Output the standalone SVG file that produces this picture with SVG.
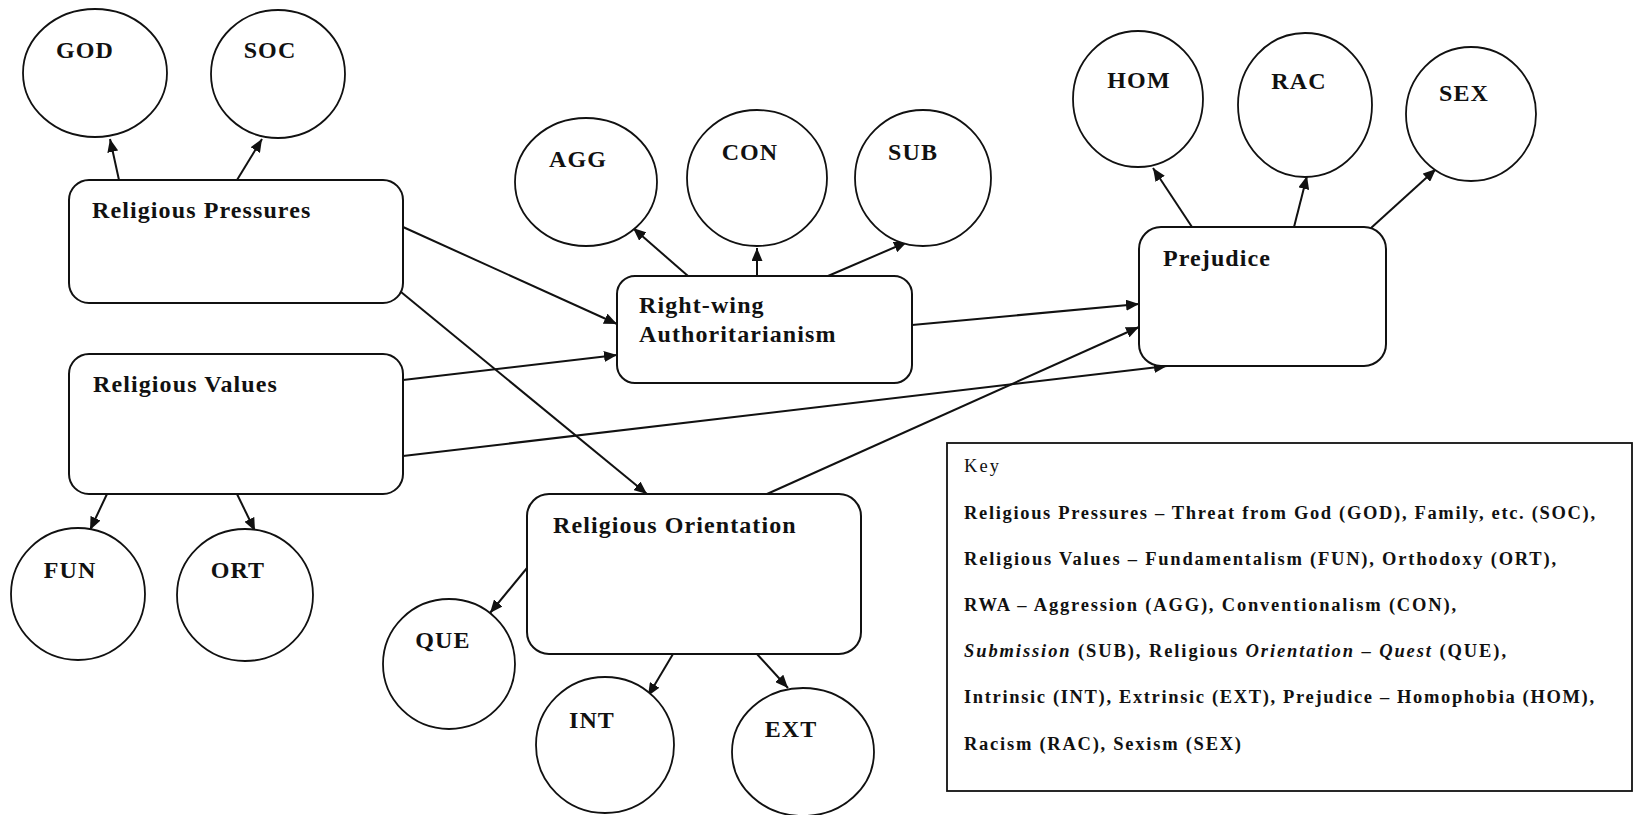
<svg xmlns="http://www.w3.org/2000/svg" width="1634" height="815" viewBox="0 0 1634 815">
  <style>
    .bg { fill: #ffffff; }
    .box { fill: #ffffff; stroke: #111111; stroke-width: 2; }
    .circ { fill: #ffffff; stroke: #111111; stroke-width: 1.8; }
    .lbl { font-family: "Liberation Serif", "Times New Roman", serif; font-weight: bold; font-size: 24px; letter-spacing: 1.1px; fill: #111111; }
    .mid { text-anchor: middle; }
    .edge { stroke: #111111; stroke-width: 2; fill: none; marker-end: url(#arrow); }
    .key { fill: #ffffff; stroke: #111111; stroke-width: 1.8; }
    .keytxt { font-family: "Liberation Serif", "Times New Roman", serif; font-weight: bold; font-size: 18.5px; fill: #111111; }
    .it { font-style: italic; }
  </style>
  <defs>
    <marker id="arrow" markerUnits="userSpaceOnUse" markerWidth="14" markerHeight="11" refX="13" refY="5.5" orient="auto">
      <path d="M0,0 L13,5.5 L0,11 z" fill="#111111"/>
    </marker>
  </defs>

  <rect class="bg" x="0" y="0" width="1634" height="815"/>

  <!-- connectors -->
  <g id="connectors">
    <line class="edge" x1="119" y1="180" x2="110" y2="139"/>
    <line class="edge" x1="237" y1="180" x2="262" y2="139"/>
    <line class="edge" x1="107" y1="494" x2="90" y2="530"/>
    <line class="edge" x1="237" y1="494" x2="255" y2="531"/>
    <line class="edge" x1="403" y1="227" x2="617" y2="324"/>
    <line class="edge" x1="403" y1="380" x2="617" y2="355"/>
    <line class="edge" x1="401" y1="292" x2="647" y2="494"/>
    <line class="edge" x1="688" y1="276" x2="633" y2="228"/>
    <line class="edge" x1="757" y1="276" x2="757" y2="248"/>
    <line class="edge" x1="828" y1="276" x2="907" y2="242"/>
    <line class="edge" x1="912" y1="325" x2="1139" y2="304"/>
    <line class="edge" x1="403" y1="456" x2="1167" y2="366"/>
    <line class="edge" x1="767" y1="494" x2="1139" y2="327"/>
    <line class="edge" x1="527" y1="568" x2="490" y2="613"/>
    <line class="edge" x1="673" y1="654" x2="648" y2="696"/>
    <line class="edge" x1="757" y1="654" x2="788" y2="688"/>
    <line class="edge" x1="1192" y1="227" x2="1153" y2="168"/>
    <line class="edge" x1="1294" y1="227" x2="1307" y2="176"/>
    <line class="edge" x1="1371" y1="228" x2="1436" y2="169"/>
  </g>

  <!-- latent constructs -->
  <g id="religious-pressures">
    <rect class="box" x="69" y="180" width="334" height="123" rx="20" ry="20"/>
    <text class="lbl" x="92" y="218">Religious Pressures</text>
  </g>
  <g id="religious-values">
    <rect class="box" x="69" y="354" width="334" height="140" rx="20" ry="20"/>
    <text class="lbl" x="93" y="392">Religious Values</text>
  </g>
  <g id="rwa">
    <rect class="box" x="617" y="276" width="295" height="107" rx="18" ry="18"/>
    <text class="lbl" x="639" y="313">Right-wing</text>
    <text class="lbl" x="639" y="342">Authoritarianism</text>
  </g>
  <g id="religious-orientation">
    <rect class="box" x="527" y="494" width="334" height="160" rx="22" ry="22"/>
    <text class="lbl" x="553" y="533">Religious Orientation</text>
  </g>
  <g id="prejudice">
    <rect class="box" x="1139" y="227" width="247" height="139" rx="22" ry="22"/>
    <text class="lbl" x="1163" y="266">Prejudice</text>
  </g>

  <!-- indicators -->
  <g id="god">
    <ellipse class="circ" cx="95" cy="73" rx="72" ry="64"/>
    <text class="lbl mid" x="85" y="58">GOD</text>
  </g>
  <g id="soc">
    <ellipse class="circ" cx="278" cy="74" rx="67" ry="64"/>
    <text class="lbl mid" x="270" y="58">SOC</text>
  </g>
  <g id="agg">
    <ellipse class="circ" cx="586" cy="182" rx="71" ry="64"/>
    <text class="lbl mid" x="578" y="167">AGG</text>
  </g>
  <g id="con">
    <ellipse class="circ" cx="757" cy="178" rx="70" ry="68"/>
    <text class="lbl mid" x="750" y="160">CON</text>
  </g>
  <g id="sub">
    <ellipse class="circ" cx="923" cy="178" rx="68" ry="68"/>
    <text class="lbl mid" x="913" y="160">SUB</text>
  </g>
  <g id="hom">
    <ellipse class="circ" cx="1138" cy="99" rx="65" ry="68"/>
    <text class="lbl mid" x="1139" y="88">HOM</text>
  </g>
  <g id="rac">
    <ellipse class="circ" cx="1305" cy="105" rx="67" ry="72"/>
    <text class="lbl mid" x="1299" y="89">RAC</text>
  </g>
  <g id="sex">
    <ellipse class="circ" cx="1471" cy="114" rx="65" ry="67"/>
    <text class="lbl mid" x="1464" y="101">SEX</text>
  </g>
  <g id="fun">
    <ellipse class="circ" cx="78" cy="594" rx="67" ry="66"/>
    <text class="lbl mid" x="70" y="578">FUN</text>
  </g>
  <g id="ort">
    <ellipse class="circ" cx="245" cy="595" rx="68" ry="66"/>
    <text class="lbl mid" x="238" y="578">ORT</text>
  </g>
  <g id="que">
    <ellipse class="circ" cx="449" cy="664" rx="66" ry="65"/>
    <text class="lbl mid" x="443" y="648">QUE</text>
  </g>
  <g id="int">
    <ellipse class="circ" cx="605" cy="745" rx="69" ry="68"/>
    <text class="lbl mid" x="592" y="728">INT</text>
  </g>
  <g id="ext">
    <ellipse class="circ" cx="803" cy="752" rx="71" ry="64"/>
    <text class="lbl mid" x="791" y="737">EXT</text>
  </g>

  <!-- legend -->
  <g id="key">
    <rect class="key" x="947" y="443" width="685" height="348"/>
    <text class="keytxt" x="964" y="472" style="font-weight:normal" textLength="35" lengthAdjust="spacing">Key</text>
    <text class="keytxt" x="964" y="519" textLength="631" lengthAdjust="spacing">Religious Pressures – Threat from God (GOD), Family, etc. (SOC),</text>
    <text class="keytxt" x="964" y="565" textLength="592" lengthAdjust="spacing">Religious Values – Fundamentalism (FUN), Orthodoxy (ORT),</text>
    <text class="keytxt" x="964" y="611" textLength="492" lengthAdjust="spacing">RWA – Aggression (AGG), Conventionalism (CON),</text>
    <text class="keytxt" x="964" y="657" textLength="542" lengthAdjust="spacing"><tspan class="it">Submission</tspan> (SUB), Religious <tspan class="it">Orientation</tspan> – <tspan class="it">Quest</tspan> (QUE),</text>
    <text class="keytxt" x="964" y="703" textLength="630" lengthAdjust="spacing">Intrinsic (INT), Extrinsic (EXT), Prejudice – Homophobia (HOM),</text>
    <text class="keytxt" x="964" y="750" textLength="277" lengthAdjust="spacing">Racism (RAC), Sexism (SEX)</text>
  </g>
</svg>
